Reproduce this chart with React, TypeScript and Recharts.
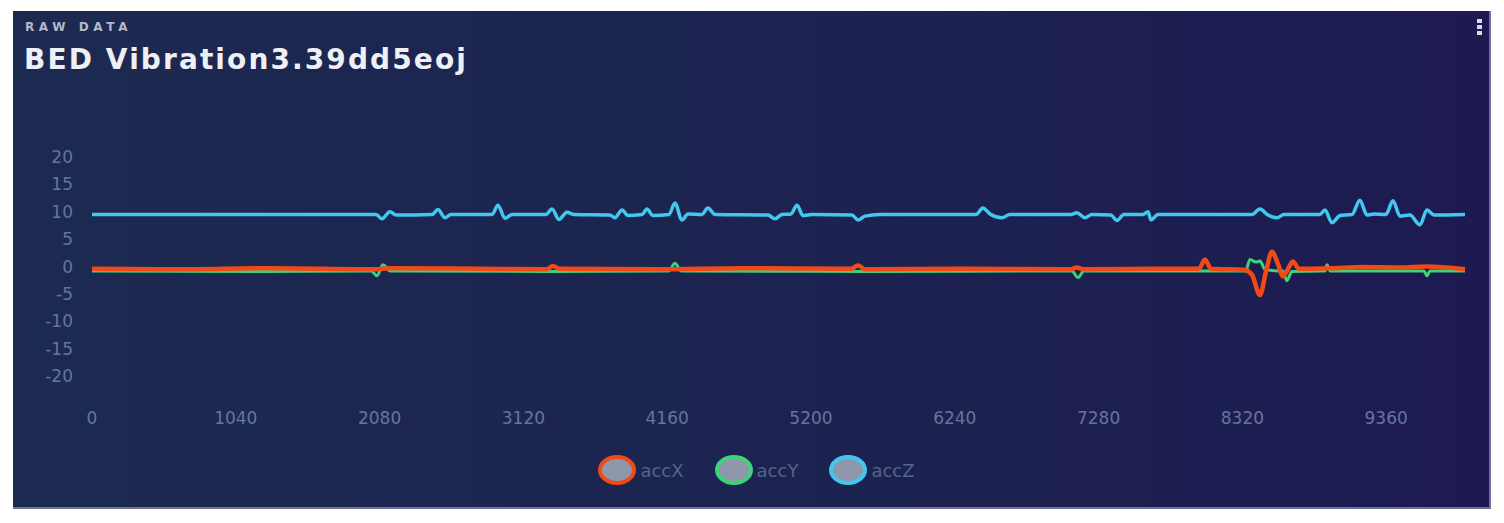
import { Line, LineChart, XAxis, YAxis } from 'recharts'

// sample index / value pairs
const accXIdx = [0, 600, 1300, 2050, 2150, 2800, 3290, 3334, 3380, 4100, 4700, 5490, 5540, 5590, 6300, 7080, 7123, 7170, 7700, 8006, 8049, 8093, 8331, 8389, 8447, 8490, 8534, 8577, 8613, 8649, 8685, 8729, 8968, 9192, 9460, 9655, 9930]
const accXVal = [-0.4, -0.5, -0.3, -0.5, -0.3, -0.4, -0.5, 0.1, -0.4, -0.5, -0.3, -0.4, 0.2, -0.5, -0.4, -0.5, -0.2, -0.5, -0.4, -0.4, 1.3, -0.4, -0.6, -1.5, -5.2, -1.0, 2.7, 0.5, -1.8, -0.5, 0.9, -0.4, -0.3, -0.1, -0.2, 0.0, -0.5]

const accYIdx = [0, 1200, 2020, 2061, 2104, 2155, 3300, 4130, 4173, 4216, 4260, 5600, 7045, 7087, 7131, 7174, 8300, 8345, 8374, 8418, 8447, 8483, 8580, 8613, 8642, 8678, 8890, 8917, 8932, 8953, 9600, 9633, 9655, 9677, 9930]
const accYVal = [-0.8, -0.9, -0.8, -1.7, 0.3, -0.8, -0.9, -0.8, -0.8, 0.6, -0.8, -0.9, -0.8, -0.8, -2.0, -0.8, -0.8, -0.8, 1.3, 0.8, 1.0, -0.5, -0.8, -0.8, -2.6, -0.9, -0.8, -0.8, 0.3, -0.8, -0.8, -0.8, -1.7, -0.8, -0.8]

const accZIdx = [0, 781, 1504, 2054, 2097, 2155, 2199, 2459, 2502, 2553, 2596, 2893, 2936, 2987, 3037, 3283, 3327, 3377, 3435, 3486, 3746, 3782, 3833, 3876, 3978, 4014, 4057, 4173, 4216, 4267, 4310, 4411, 4455, 4506, 4889, 4939, 4990, 5055, 5099, 5142, 5207, 5496, 5540, 5590, 5699, 6393, 6444, 6494, 6581, 6639, 7080, 7123, 7181, 7232, 7369, 7413, 7463, 7601, 7637, 7659, 7710, 8389, 8447, 8505, 8570, 8621, 8881, 8917, 8968, 9026, 9113, 9170, 9221, 9271, 9358, 9409, 9460, 9532, 9604, 9655, 9706, 9930]
const accZVal = [9.5, 9.5, 9.5, 9.5, 8.7, 10.0, 9.4, 9.5, 10.4, 8.9, 9.5, 9.5, 11.2, 8.8, 9.5, 9.5, 10.5, 8.6, 9.9, 9.5, 9.4, 8.9, 10.3, 9.3, 9.5, 10.5, 9.3, 9.5, 11.6, 8.5, 9.6, 9.5, 10.7, 9.5, 9.4, 8.7, 9.5, 9.6, 11.2, 9.3, 9.5, 9.4, 8.5, 9.2, 9.5, 9.5, 10.7, 9.6, 8.9, 9.5, 9.5, 9.8, 8.9, 9.5, 9.4, 8.4, 9.5, 9.5, 10.0, 8.5, 9.5, 9.5, 10.5, 9.4, 8.9, 9.5, 9.5, 10.3, 8.0, 9.3, 9.5, 12.1, 9.4, 9.6, 9.5, 12.0, 9.2, 9.4, 7.6, 10.3, 9.4, 9.5]

const xTicks = [0, 1040, 2080, 3120, 4160, 5200, 6240, 7280, 8320, 9360]
const yTicks = [-20, -15, -10, -5, 0, 5, 10, 15, 20]

const toPoints = (idx: number[], vals: number[]) => idx.map((x, i) => ({ x, v: vals[i] }))

const series = [
  { name: 'accY', color: '#3ed27a', width: 3, data: toPoints(accYIdx, accYVal) },
  { name: 'accX', color: '#f24a17', width: 4.5, data: toPoints(accXIdx, accXVal) },
  { name: 'accZ', color: '#42c8ee', width: 3.5, data: toPoints(accZIdx, accZVal) },
]

const legendOrder = ['accX', 'accY', 'accZ']
const tickStyle = { fill: '#66759a', fontSize: 17, fontFamily: 'DejaVu Sans' }

function Kebab() {
  return (
    <svg width={10} height={18} style={{ position: 'absolute', right: 4, top: 7 }}>
      {[3, 9, 15].map((cy) => (
        <rect key={cy} x={2} y={cy - 2} width={5} height={4} fill="#d8dbe6" />
      ))}
    </svg>
  )
}

export default function App() {
  return (
    <div style={{ padding: '3px 0 0 5px' }}>
      <div
        style={{
          position: 'relative',
          width: 1478,
          height: 498,
          boxSizing: 'border-box',
          background: 'linear-gradient(90deg, #1c2a50 0%, #1c2250 60%, #1d1a52 100%)',
          borderRight: '2px solid #6e6f9a',
          borderBottom: '2px solid #6e7396',
          fontFamily: 'DejaVu Sans, sans-serif',
        }}
      >
        <div
          style={{
            position: 'absolute',
            left: 12,
            top: 9,
            fontSize: 12,
            fontWeight: 700,
            letterSpacing: 4.6,
            color: '#b4b9cb',
          }}
        >
          RAW DATA
        </div>
        <div
          style={{
            position: 'absolute',
            left: 11,
            top: 32,
            fontSize: 28,
            fontWeight: 700,
            color: '#eef0f5',
            letterSpacing: 2.1,
            lineHeight: 1.2,
          }}
        >
          BED Vibration3.39dd5eoj
        </div>
        <Kebab />

        <div style={{ position: 'absolute', left: 0, top: 0 }}>
          <LineChart width={1476} height={496} margin={{ top: 146, right: 24, bottom: 71, left: 29 }}>
            <XAxis
              type="number"
              dataKey="x"
              domain={[0, 9930]}
              ticks={xTicks}
              axisLine={false}
              tickLine={false}
              tickMargin={30}
              height={60}
              tick={tickStyle}
              allowDataOverflow
            />
            <YAxis
              type="number"
              domain={[-20, 20]}
              ticks={yTicks}
              axisLine={false}
              tickLine={false}
              tickMargin={13}
              width={50}
              tick={tickStyle}
              allowDataOverflow
            />
            {series.map((s) => (
              <Line
                key={s.name}
                data={s.data}
                dataKey="v"
                name={s.name}
                type="monotone"
                stroke={s.color}
                strokeWidth={s.width}
                strokeLinejoin="round"
                dot={false}
                isAnimationActive={false}
              />
            ))}
          </LineChart>
        </div>

        <div
          style={{
            position: 'absolute',
            top: 443,
            left: 0,
            width: 1476,
            display: 'flex',
            justifyContent: 'center',
            gap: 30,
            paddingLeft: 10,
            boxSizing: 'border-box',
          }}
        >
          {legendOrder.map((n) => {
            const s = series.find((d) => d.name === n)!
            return (
              <div key={n} style={{ display: 'flex', alignItems: 'center', gap: 3 }}>
                <svg width={40} height={32}>
                  <ellipse cx={20} cy={16} rx={17} ry={13} fill="#8f97aa" stroke={s.color} strokeWidth={4} />
                </svg>
                <span style={{ color: '#55648a', fontSize: 18 }}>{n}</span>
              </div>
            )
          })}
        </div>
      </div>
    </div>
  )
}
